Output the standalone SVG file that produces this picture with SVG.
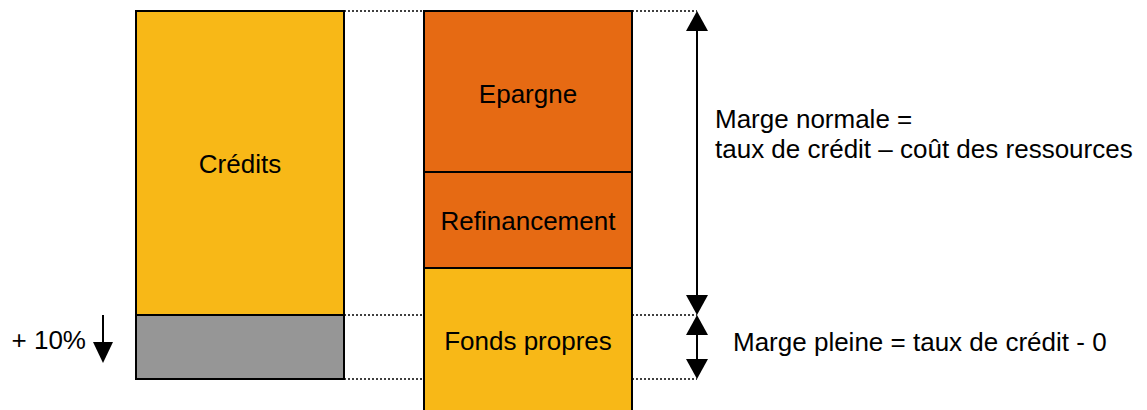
<svg xmlns="http://www.w3.org/2000/svg" width="1147" height="410" viewBox="0 0 1147 410">
  <style>
    .box { stroke: #000; stroke-width: 2; }
    .yellow { fill: #F8B817; }
    .orange { fill: #E66A13; }
    .grey { fill: #969696; }
    .guide { stroke: #000; stroke-width: 1.3; stroke-dasharray: 2 2; fill: none; }
    .arrow { stroke: #000; stroke-width: 2; fill: none; }
    .head { fill: #000; }
    text { font-family: "Liberation Sans", Arial, sans-serif; font-size: 26px; fill: #000; }
    .c { text-anchor: middle; }
    .e { text-anchor: end; }
  </style>

  <!-- assets column -->
  <g id="credits">
    <rect class="box yellow" x="136" y="11" width="208" height="304"/>
    <text class="c" x="240" y="173">Crédits</text>
  </g>
  <g id="extra">
    <rect class="box grey" x="136" y="315" width="208" height="64"/>
  </g>

  <!-- liabilities column -->
  <g id="epargne">
    <rect class="box orange" x="424" y="11" width="208" height="161"/>
    <text class="c" x="528" y="103">Epargne</text>
  </g>
  <g id="refinancement">
    <rect class="box orange" x="424" y="172" width="208" height="96"/>
    <text class="c" x="528" y="230">Refinancement</text>
  </g>
  <g id="fonds-propres">
    <path class="box yellow" d="M424 412 V268 H632 V412"/>
    <text class="c" x="528" y="350">Fonds propres</text>
  </g>

  <!-- guides and arrows -->
  <g id="connectors">
    <path class="guide" d="M344 11 H424 M632 11 H697 M344 315 H424 M632 315 H697 M344 379 H424 M632 379 H697"/>
    <path class="arrow" d="M697 30 V296 M697 334 V360 M103 315 V344"/>
    <polygon class="head" points="697,11 686,31 708,31"/>
    <polygon class="head" points="697,315 686,295 708,295"/>
    <polygon class="head" points="697,315 686,335 708,335"/>
    <polygon class="head" points="697,379 686,359 708,359"/>
    <polygon class="head" points="103,363 93,342 113,342"/>
  </g>

  <g id="labels">
    <text class="e" x="86" y="349">+ 10%</text>
    <text x="715" y="128">Marge normale =</text>
    <text x="715" y="158">taux de crédit – coût des ressources</text>
    <text x="733" y="351">Marge pleine = taux de crédit - 0</text>
  </g>
</svg>
